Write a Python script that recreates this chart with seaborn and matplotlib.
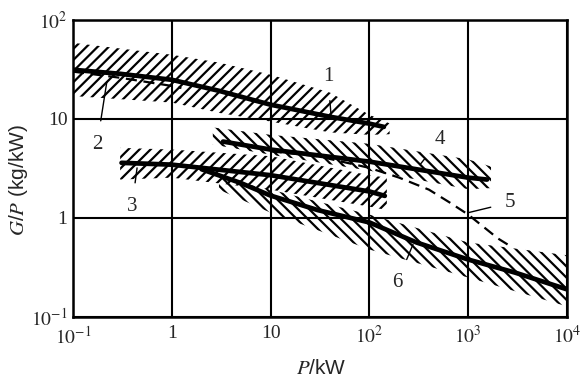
import matplotlib
matplotlib.use("Agg")
import matplotlib.pyplot as plt
import seaborn as sns
from matplotlib.ticker import NullLocator

# curve data (P in kW, G/P in kg/kW)
p1 = [0.1, 0.3, 1, 3, 10, 40, 100, 140]
g1 = [31.3, 28.5, 24.8, 19.2, 13.9, 10.5, 8.95, 8.3]
p2 = [0.1, 0.3, 1.0, 1.25]
g2 = [30.0, 26.0, 21.5, 20.5]
p3 = [0.31, 1, 10, 100, 143]
g3 = [3.6, 3.45, 2.7, 1.85, 1.67]
p4 = [3.3, 10, 100, 1000, 1550]
g4 = [5.9, 4.9, 3.7, 2.55, 2.44]
p5 = [10, 30, 100, 200, 400, 650, 1000, 2000, 2500]
g5 = [4.7, 4.2, 3.2, 2.55, 1.93, 1.43, 1.08, 0.62, 0.54]
p6 = [2, 5, 10, 30, 100, 300, 1000, 3000, 10000]
g6 = [3.1, 2.25, 1.68, 1.2, 0.9, 0.565, 0.38, 0.28, 0.19]

# scatter bands (upper / lower limits)
band1_p = [0.1, 1, 3, 10, 40, 100, 160]
band1_hi = [58.6, 44.4, 37.0, 27.9, 18.4, 11.0, 9.0]
band1_lo = [17.0, 14.6, 11.5, 9.4, 7.3, 6.9, 7.0]
band3_p = [0.3, 1, 10, 100, 150]
band3_hi = [5.1, 4.9, 4.2, 2.7, 2.55]
band3_lo = [2.44, 2.55, 1.93, 1.3, 1.2]
band4_p = [2.6, 10, 100, 1000, 1700]
band4_hi = [8.2, 6.9, 5.6, 3.9, 3.3]
band4_lo = [5.5, 4.35, 3.0, 1.95, 2.0]
band6_p = [3, 10, 100, 1000, 10000]
band6_hi = [2.55, 1.93, 1.08, 0.565, 0.42]
band6_lo = [1.93, 1.13, 0.48, 0.25, 0.128]

# curve numbers: label, text position, point on curve
labels = ["1", "2", "3", "4", "5", "6"]
label_xy = [(38, 26.6), (0.175, 5.5), (0.395, 1.30), (519, 6.2), (2650, 1.43), (190, 0.223)]
label_target = [(41, 10.5), (0.22, 23.7), (0.445, 3.2), (325, 3.45), (1000, 1.13), (276, 0.54)]

xticks = [0.1, 1, 10, 100, 1000, 10000]
xticklabels = ["$10^{-1}$", "1", "10", "$10^2$", "$10^3$", "$10^4$"]
yticks = [0.1, 1, 10, 100]
yticklabels = ["$10^{-1}$", "1", "10", "$10^2$"]

sns.set_style("white")
plt.rcParams["mathtext.fontset"] = "stix"
plt.rcParams["hatch.linewidth"] = 1.6
plt.rcParams["font.family"] = ["Liberation Serif", "DejaVu Serif"]

fig, ax = plt.subplots(figsize=(5.84, 3.81), dpi=100)
fig.subplots_adjust(left=0.125, right=0.971, bottom=0.168, top=0.948)

# hatched bands
for bp, hi, lo, h in [(band1_p, band1_hi, band1_lo, "///"),
                      (band3_p, band3_hi, band3_lo, "///"),
                      (band4_p, band4_hi, band4_lo, "\\\\\\"),
                      (band6_p, band6_hi, band6_lo, "\\\\\\")]:
    ax.fill_between(bp, lo, hi, facecolor="none", edgecolor="k",
                    linewidth=0, hatch=h)

# thick solid curves
for px, gy in [(p1, g1), (p3, g3), (p4, g4), (p6, g6)]:
    sns.lineplot(x=px, y=gy, ax=ax, color="k", linewidth=3.4,
                 estimator=None, sort=False)
# dashed curves
for px, gy in [(p2, g2), (p5, g5)]:
    sns.lineplot(x=px, y=gy, ax=ax, color="k", linewidth=1.6,
                 estimator=None, sort=False, dashes=False, linestyle=(0, (5, 3)))

for lab, txy, cxy in zip(labels, label_xy, label_target):
    ax.annotate(lab, xy=cxy, xytext=txy, ha="center", va="center",
                fontsize=15,
                arrowprops=dict(arrowstyle="-", color="k", lw=1.0,
                                shrinkA=8, shrinkB=0))

ax.set_xscale("log")
ax.set_yscale("log")
ax.set_xlim(0.1, 10000)
ax.set_ylim(0.1, 100)
ax.set_xticks(xticks)
ax.set_xticklabels(xticklabels)
ax.set_yticks(yticks)
ax.set_yticklabels(yticklabels)
ax.xaxis.set_minor_locator(NullLocator())
ax.yaxis.set_minor_locator(NullLocator())
ax.tick_params(length=0, labelsize=14)
ax.tick_params(axis="x", pad=6)
ax.tick_params(axis="y", pad=4)
ax.grid(True, color="k", linewidth=1.5)
ax.set_axisbelow(True)
for s in ax.spines.values():
    s.set_color("k")
    s.set_linewidth(1.8)

ax.set_xlabel("$\\mathit{P}$/kW", fontsize=15, family="Liberation Sans")
ax.set_ylabel("$\\mathit{G}$/$\\mathit{P}$ (kg/kW)", fontsize=15,
              family="Liberation Sans")
ax.xaxis.set_label_coords(0.503, -0.14)
ax.yaxis.set_label_coords(-0.088, 0.46)

fig.savefig("out.png", dpi=100)
